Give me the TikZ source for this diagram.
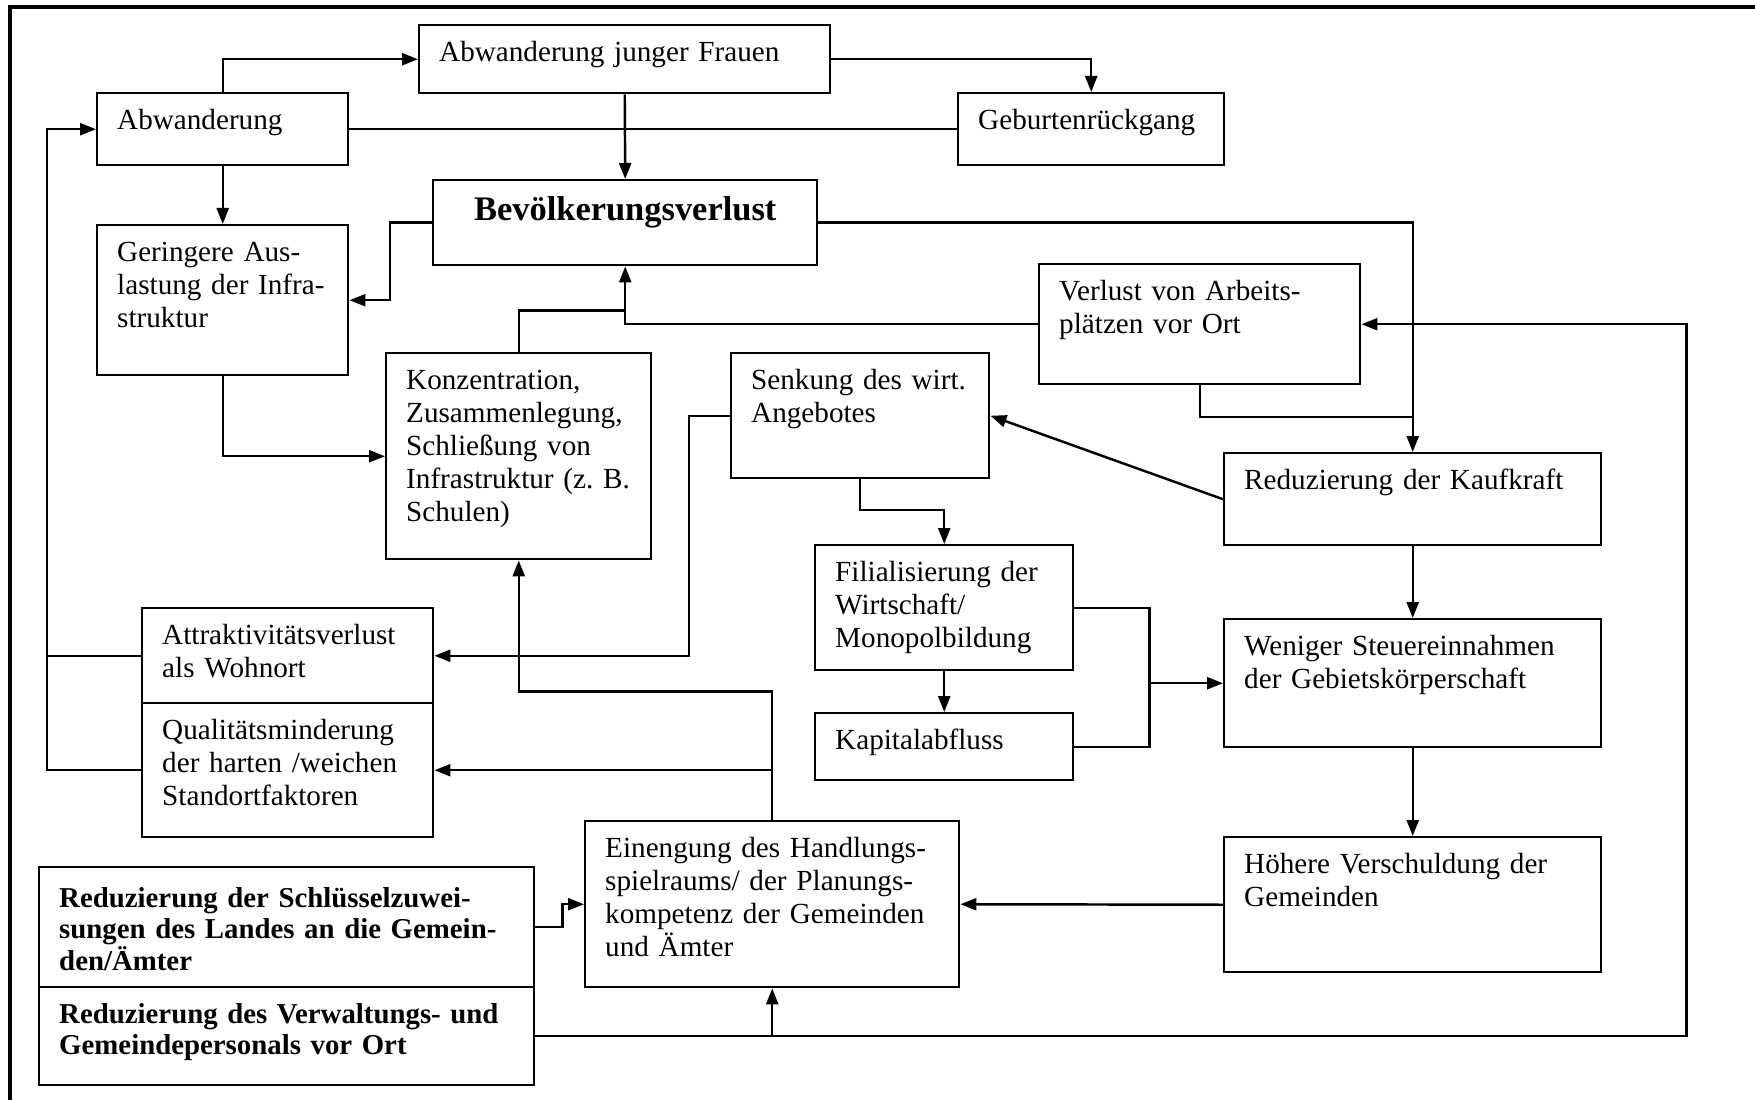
\documentclass[tikz,border=0pt]{standalone}
\usepackage{fontspec}
\setmainfont{Liberation Serif}
\usepackage{tikz}
\usetikzlibrary{arrows.meta}

\begin{document}
\begin{tikzpicture}[
    line width=0.7pt,
    box/.style={draw, anchor=north west, align=left, inner xsep=0.2cm,
      inner ysep=0pt, text height=0.36cm, fill=white,
      font=\fontsize{8.3}{9.4}\selectfont},
    head/.style={box, align=center, text height=0.40cm,
      font=\fontsize{9.8}{11}\selectfont\bfseries},
    cut/.style={box, text height=0.40cm,
      font=\fontsize{8.2}{9.0}\selectfont\bfseries},
    arr/.style={-{Triangle[length=1.6mm,width=1.2mm]}},
    frame/.style={line width=1.4pt}
  ]
    \useasboundingbox (0,0) rectangle (17.55,-11);
    \draw[frame] (0.1,-11) -- (0.1,-0.07) -- (17.55,-0.07);

    % top row
    \node[box, text width=3.71cm, text depth=0.32cm] (junge) at (4.18,-0.24)
      {Abwanderung junger Frauen};
    \node[box, text width=2.11cm, text depth=0.36cm] (abw) at (0.96,-0.92)
      {Abwanderung};
    \node[box, text width=2.26cm, text depth=0.36cm] (geburt) at (9.57,-0.92)
      {Geburtenrückgang};
    \node[head, text width=3.44cm, text depth=0.45cm] (verlust) at (4.32,-1.79)
      {Bevölkerungsverlust};
    \node[box, text width=2.11cm, text depth=1.14cm] (auslast) at (0.96,-2.24)
      {Geringere Aus-\\lastung der Infra-\\struktur};
    \node[box, text width=2.81cm, text depth=0.84cm] (arbeit) at (10.38,-2.63)
      {Verlust von Arbeits-\\plätzen vor Ort};

    % middle
    \node[box, text width=2.25cm, text depth=1.70cm] (konz) at (3.85,-3.52)
      {Konzentration,\\Zusammenlegung,\\Schließung von\\\mbox{Infrastruktur (z.~B.}\\Schulen)};
    \node[box, text width=2.18cm, text depth=0.89cm] (senk) at (7.30,-3.52)
      {Senkung des wirt.\\Angebotes};
    \node[box, text width=3.37cm, text depth=0.56cm] (kauf) at (12.23,-4.52)
      {Reduzierung der Kaufkraft};
    \node[box, text width=2.18cm, text depth=0.89cm] (filial) at (8.14,-5.44)
      {Filialisierung der\\Wirtschaft/\\Monopolbildung};
    \node[box, text width=2.18cm, text depth=0.31cm] (kapital) at (8.14,-7.12)
      {Kapitalabfluss};
    \node[box, text width=3.37cm, text depth=0.92cm] (steuer) at (12.23,-6.18)
      {Weniger Steuereinnahmen\\der Gebietskörperschaft};
    \node[box, text width=2.51cm, text depth=0.59cm] (attrakt) at (1.41,-6.07)
      {Attraktivitätsverlust\\als Wohnort};
    \node[box, text width=2.51cm, text depth=0.98cm] (qualit) at (1.41,-7.02)
      {Qualitätsminderung\\der harten /weichen\\Standortfaktoren};

    % bottom
    \node[box, text width=3.34cm, text depth=1.30cm] (einengung) at (5.84,-8.20)
      {Einengung des Handlungs-\\spielraums/ der Planungs-\\kompetenz der Gemeinden\\und Ämter};
    \node[box, text width=3.37cm, text depth=0.99cm] (schuld) at (12.23,-8.36)
      {Höhere Verschuldung der\\Gemeinden};
    \node[cut, text width=4.55cm, text depth=0.80cm] (schluessel) at (0.38,-8.66)
      {Reduzierung der Schlüsselzuwei-\\sungen des Landes an die Gemein-\\den/Ämter};
    \node[cut, text height=0.36cm, text width=4.55cm, text depth=0.62cm] (personal) at (0.38,-9.86)
      {Reduzierung des Verwaltungs- und\\Gemeindepersonals vor Ort};

    % connectors
    \draw[arr] (abw.north) |- (junge.west);
    \draw[arr] (junge.east) -| (geburt.north);
    \draw (abw.east) -- (geburt.west);
    \draw[arr] (junge.south) -- (verlust.north);
    \draw[arr] (abw.south) -- (auslast.north);
    \draw[arr] (qualit.west) -- ++(-0.94,0) |- (abw.west);
    \draw (attrakt.west) -- ++(-0.94,0);
    \draw[arr] (verlust.west) -- ++(-0.42,0) |- (auslast.east);
    \draw[arr] (auslast.south) |- (konz.west);
    \draw (konz.north) |- ([yshift=-0.44cm]verlust.south);
    \draw[arr] (arbeit.west) -| (verlust.south);
    \draw[arr] (verlust.east) -| (kauf.north);
    \draw (arbeit.south) |- ([yshift=0.35cm]kauf.north);
    \draw[arr] (personal.east) -| ([xshift=3.25cm]arbeit.east) -- (arbeit.east);
    \draw[arr] (einengung.south |- personal.east) -- (einengung.south);
    \draw[arr] (schluessel.east) -- ++(0.27,0) |- (einengung.west);
    \draw[arr] (schuld.west) -- (einengung.east);
    \draw[arr] (einengung.north) |- ([yshift=-1.31cm]konz.south) -- (konz.south);
    \draw[arr] (einengung.north |- qualit.east) -- (qualit.east);
    \draw[arr] (senk.west) -- ++(-0.41,0) |- (attrakt.east);
    \draw[arr] (senk.south) |- ([yshift=0.34cm]filial.north) -- (filial.north);
    \draw[arr] (kauf.west) -- (senk.east);
    \draw[arr] (filial.south) -- (kapital.north);
    \draw (filial.east) -| ([xshift=0.75cm]kapital.east) -- (kapital.east);
    \draw[arr] ([xshift=0.75cm]kapital.east |- steuer.west) -- (steuer.west);
    \draw[arr] (kauf.south) -- (steuer.north);
    \draw[arr] (steuer.south) -- (schuld.north);
  \end{tikzpicture}
\end{document}
